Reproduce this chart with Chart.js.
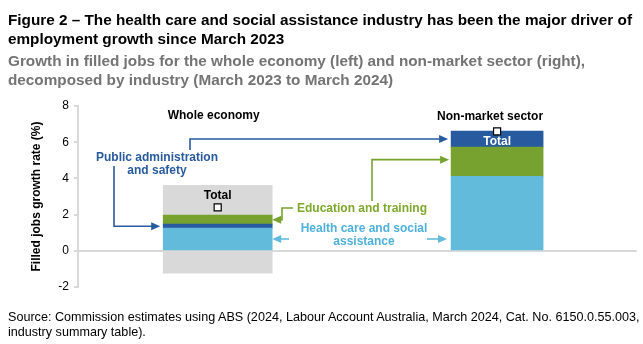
<!DOCTYPE html>
<html>
<head>
<meta charset="utf-8">
<script src="https://cdn.jsdelivr.net/npm/chart.js@4"></script>
<style>
  body { margin: 0; width: 643px; height: 344px; background: #fff; position: relative; overflow: hidden;
         font-family: "Liberation Sans", Arial, sans-serif; }
  .title { position: absolute; left: 8px; top: 10px; font-weight: bold; font-size: 15.3px; line-height: 19px; color: #000; white-space: nowrap; }
  .subtitle { position: absolute; left: 8px; top: 51px; font-weight: bold; font-size: 15.3px; line-height: 19px; color: #747474; white-space: nowrap; }
  .source { position: absolute; left: 8px; top: 310px; font-size: 12.6px; line-height: 15px; color: #000; white-space: nowrap; }
  .chart-box { position: absolute; left: 0; top: 0; width: 643px; height: 344px; }
</style>
</head>
<body>
<div class="chart-box"><canvas id="jobsChart"></canvas></div>
<div class="title">Figure 2 – The health care and social assistance industry has been the major driver of<br>employment growth since March 2023</div>
<div class="subtitle">Growth in filled jobs for the whole economy (left) and non-market sector (right),<br>decomposed by industry (March 2023 to March 2024)</div>
<div class="source">Source: Commission estimates using ABS (2024, Labour Account Australia, March 2024, Cat. No. 6150.0.55.003,<br>industry summary table).</div>
<script>
const sectors = ['Whole economy', 'Non-market sector'];

// contribution to growth in filled jobs, percentage points
const healthCare = [1.25, 4.12];
const publicAdmin = [0.22, 0.89];
const education = [0.50, 1.61];
const otherUp = [1.65, null];
const otherDown = [-1.23, null];
const totalGrowth = [2.4, 6.6];

const yTicks = [-2, 0, 2, 4, 6, 8];

const FONT = '"Liberation Sans", Arial, sans-serif';
const LIGHT_BLUE = '#63bbdb';
const DARK_BLUE = '#285a9f';
const GREEN = '#78a22f';
const GREY = '#d9d9d9';

const series = {
  health: { values: healthCare, color: LIGHT_BLUE },
  public: { values: publicAdmin, color: DARK_BLUE },
  education: { values: education, color: GREEN },
  otherUp: { values: otherUp, color: GREY },
  otherDown: { values: otherDown, color: GREY }
};

// stacking order differs between the two bars
const stackOrder = [
  ['health', 'public', 'education', 'otherUp', 'otherDown'],
  ['health', 'education', 'public']
];
const thickness = [109, 92];

const datasets = [];
const segIndex = [{}, {}];
stackOrder.forEach((keys, s) => {
  keys.forEach(key => {
    const v = series[key].values[s];
    if (v == null) return;
    segIndex[s][key] = datasets.length;
    datasets.push({
      type: 'bar',
      label: key,
      data: sectors.map((_, i) => (i === s ? v : null)),
      backgroundColor: series[key].color,
      barThickness: thickness[s],
      borderWidth: 0
    });
  });
});

const totalIndex = datasets.length;
datasets.push({
  type: 'line',
  label: 'Total',
  data: totalGrowth,
  stack: 'total',
  showLine: false,
  order: -1,
  pointStyle: 'rect',
  pointRadius: 5,
  pointBackgroundColor: '#fff',
  pointBorderColor: '#000',
  pointBorderWidth: 1.2
});

function seg(chart, s, key) {
  const el = chart.getDatasetMeta(segIndex[s][key]).data[s];
  return {
    left: el.x - el.width / 2,
    right: el.x + el.width / 2,
    mid: (el.y + el.base) / 2,
    x: el.x
  };
}

function arrow(ctx, pts, color) {
  const n = pts.length;
  const [tx, ty] = pts[n - 1];
  const [px, py] = pts[n - 2];
  const dx = Math.sign(tx - px), dy = Math.sign(ty - py);
  ctx.save();
  ctx.strokeStyle = color;
  ctx.fillStyle = color;
  ctx.lineWidth = 1.6;
  ctx.beginPath();
  ctx.moveTo(pts[0][0], pts[0][1]);
  for (let i = 1; i < n - 1; i++) ctx.lineTo(pts[i][0], pts[i][1]);
  ctx.lineTo(tx - dx * 7, ty - dy * 7);
  ctx.stroke();
  ctx.beginPath();
  ctx.moveTo(tx, ty);
  ctx.lineTo(tx - dx * 9 - dy * 4, ty - dy * 9 - dx * 4);
  ctx.lineTo(tx - dx * 9 + dy * 4, ty - dy * 9 + dx * 4);
  ctx.closePath();
  ctx.fill();
  ctx.restore();
}

function text(ctx, str, x, y, color, align) {
  ctx.fillStyle = color;
  ctx.textAlign = align || 'center';
  ctx.fillText(str, x, y);
}

const annotations = {
  id: 'annotations',
  afterDatasetsDraw(chart) {
    const ctx = chart.ctx;
    ctx.save();
    ctx.font = 'bold 12px ' + FONT;
    ctx.textBaseline = 'middle';

    const wHealth = seg(chart, 0, 'health');
    const wPublic = seg(chart, 0, 'public');
    const wEdu = seg(chart, 0, 'education');
    const nPublic = seg(chart, 1, 'public');
    const nEdu = seg(chart, 1, 'education');
    const marks = chart.getDatasetMeta(totalIndex).data;

    // bar headings
    text(ctx, sectors[0], wHealth.x - 4, 116, '#000');
    text(ctx, sectors[1], nPublic.x - 7, 117, '#000');

    // total markers
    text(ctx, 'Total', marks[0].x, marks[0].y - 12, '#000');
    text(ctx, 'Total', marks[1].x, marks[1].y + 10, '#fff');

    // public administration and safety
    text(ctx, 'Public administration', 157, 158, DARK_BLUE);
    text(ctx, 'and safety', 157, 171, DARK_BLUE);
    arrow(ctx, [[114, 166], [114, wPublic.mid], [wPublic.left - 3, wPublic.mid]], DARK_BLUE);
    arrow(ctx, [[190, 150], [190, nPublic.mid], [nPublic.left - 3, nPublic.mid]], DARK_BLUE);

    // education and training
    const eduColor = '#7ea82c';
    text(ctx, 'Education and training', 297, 209, eduColor, 'left');
    arrow(ctx, [[293, 208], [282, 208], [282, wEdu.mid], [wEdu.right, wEdu.mid]], GREEN);
    arrow(ctx, [[372, 201], [372, nEdu.mid - 2], [nEdu.left - 2, nEdu.mid - 2]], GREEN);

    // health care and social assistance
    const hColor = '#4eb0dc';
    text(ctx, 'Health care and social', 364, 229, hColor);
    text(ctx, 'assistance', 364, 242, hColor);
    arrow(ctx, [[289, wHealth.mid], [wHealth.right, wHealth.mid]], LIGHT_BLUE);
    arrow(ctx, [[427, wHealth.mid], [447, wHealth.mid]], LIGHT_BLUE);

    ctx.restore();
  }
};

new Chart(document.getElementById('jobsChart'), {
  data: { labels: sectors, datasets: datasets },
  options: {
    responsive: true,
    maintainAspectRatio: false,
    animation: false,
    layout: { padding: { left: 25, top: 106, right: 2, bottom: 57 } },
    plugins: { legend: { display: false }, tooltip: { enabled: false } },
    scales: {
      x: { display: false, stacked: true },
      y: {
        stacked: true,
        min: -2,
        max: 8,
        afterFit(scale) { scale.width = 53; },
        afterBuildTicks(scale) { scale.ticks = yTicks.map(v => ({ value: v })); },
        ticks: { color: '#000', padding: 5, font: { family: FONT, size: 12 } },
        grid: {
          color: ctx => (ctx.tick && ctx.tick.value === 0 ? '#d9d9d9' : 'rgba(0,0,0,0)'),
          tickColor: '#d9d9d9',
          tickLength: 4,
          lineWidth: 2
        },
        border: { display: true, color: '#d9d9d9', width: 2 },
        title: {
          display: true,
          text: 'Filled jobs growth rate (%)',
          color: '#000',
          font: { family: FONT, size: 12, weight: 'bold' }
        }
      }
    }
  },
  plugins: [annotations]
});
</script>
</body>
</html>
